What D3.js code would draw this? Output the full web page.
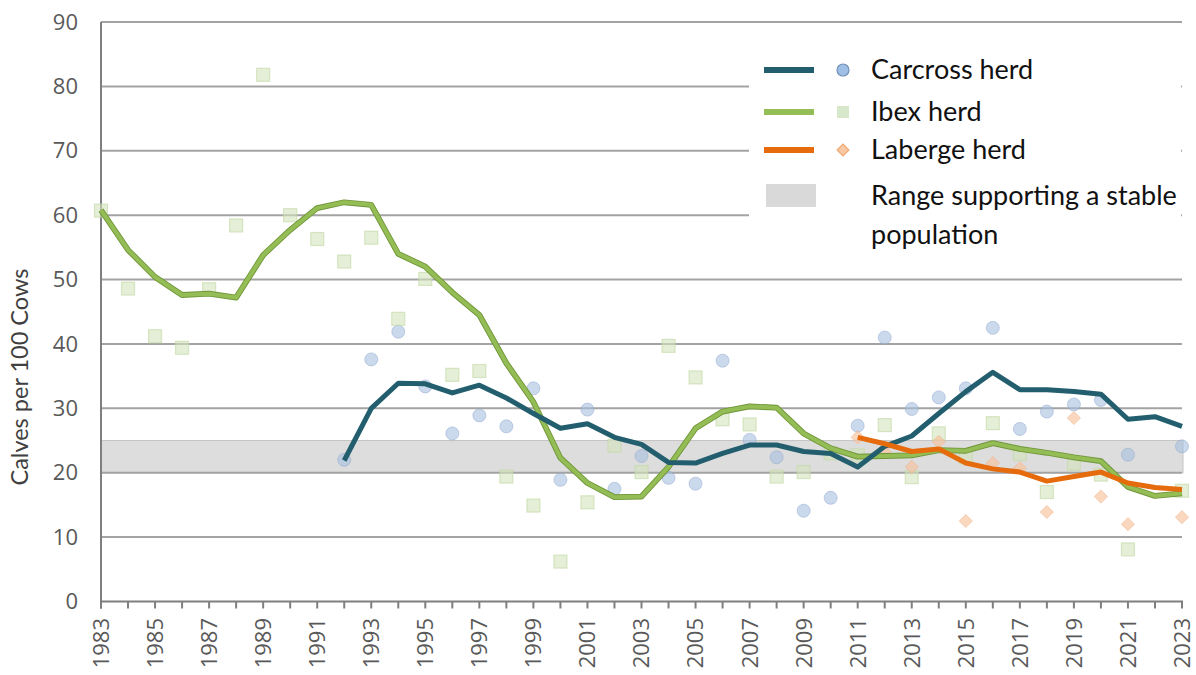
<!DOCTYPE html>
<html>
<head>
<meta charset="utf-8">
<script src="https://cdn.jsdelivr.net/npm/d3@7"></script>
<style>
  body { margin: 0; background: #fff; }
  svg { display: block; }
  .tick-lbl { font-family: "Open Sans", sans-serif; fill: #595959; }
  .legend-lbl { font-family: Lato, sans-serif; fill: #111; }
</style>
</head>
<body>
<div id="chart"></div>
<script>
// years on the x axis
const years = d3.range(1983, 2024);
const yearLabels = d3.range(1983, 2024, 2);
const yTicks = [0, 10, 20, 30, 40, 50, 60, 70, 80, 90];
const stableRange = [20, 25];

// running averages (lines)
const ibexLine = [60.8, 54.6, 50.4, 47.6, 47.8, 47.2, 53.8, 57.7, 61.1, 62.0,
  61.6, 54.0, 52.0, 48.0, 44.5, 37.0, 31.0, 22.3, 18.4, 16.2,
  16.3, 20.9, 26.9, 29.5, 30.3, 30.1, 26.1, 23.8, 22.5, 22.6,
  22.7, 23.5, 23.4, 24.6, 23.7, 23.1, 22.4, 21.8, 17.8, 16.4, 16.8];
const carcrossYears = d3.range(1992, 2024);
const carcrossLine = [21.9, 30.0, 33.9, 33.8, 32.4, 33.6, 31.6, 29.2, 26.9, 27.6,
  25.5, 24.4, 21.6, 21.5, 23.0, 24.3, 24.3, 23.3, 23.0, 20.9,
  24.1, 25.7, 29.2, 32.6, 35.6, 32.9, 32.9, 32.6, 32.2, 28.3, 28.7, 27.2];
const labergeYears = d3.range(2011, 2024);
const labergeLine = [25.5, 24.5, 23.3, 23.7, 21.5, 20.6, 20.1, 18.7, 19.4, 20.1, 18.4, 17.7, 17.4];

// yearly survey values (points)
const ibexPts = [60.7, 48.6, 41.2, 39.4, 48.5, 58.4, 81.8, 60.0, 56.3, 52.8,
  56.5, 43.9, 50.1, 35.2, 35.8, 19.4, 14.9, 6.2, 15.4, 24.2,
  20.1, 39.7, 34.8, 28.3, 27.5, 19.4, 20.1, 23.0, 22.7, 27.4,
  19.3, 26.1, 22.4, 27.7, 22.9, 17.0, 21.4, 19.7, 8.1, null, 17.2];
const carcrossPts = [22.0, 37.6, 41.9, 33.4, 26.1, 28.9, 27.2, 33.1, 18.9, 29.8,
  17.5, 22.6, 19.2, 18.3, 37.4, 25.1, 22.4, 14.1, 16.1, 27.3,
  41.0, 29.9, 31.7, 33.1, 42.5, 26.8, 29.5, 30.6, 31.3, 22.8, null, 24.1];
const labergePts = [25.5, 23.3, 20.9, 24.8, 12.5, 21.5, 20.7, 13.9, 28.5, 16.3, 12.0, null, 13.1];

const legendItems = ["Carcross herd", "Ibex herd", "Laberge herd"];

const width = 1196, height = 675;
const svg = d3.select("#chart").append("svg")
  .attr("width", width).attr("height", height);

const x = d3.scaleLinear().domain([1983, 2023]).range([101, 1182]);
const y = d3.scaleLinear().domain([0, 90]).range([601.5, 22]);

// stable band
svg.append("rect")
  .attr("x", x(1983)).attr("width", x(2023) - x(1983) + 1)
  .attr("y", y(stableRange[1])).attr("height", y(stableRange[0]) - y(stableRange[1]))
  .attr("fill", "#dddddd").attr("stroke", "#c4c4c4").attr("stroke-width", 1);

// gridlines
svg.append("g")
  .selectAll("line")
  .data(yTicks.filter(d => d > 0))
  .join("line")
  .attr("x1", x(1983)).attr("x2", x(2023))
  .attr("y1", d => y(d)).attr("y2", d => y(d))
  .attr("stroke", "#a3a3a3").attr("stroke-width", 2);

// y labels
svg.append("g")
  .selectAll("text")
  .data(yTicks)
  .join("text")
  .attr("class", "tick-lbl")
  .attr("x", 78).attr("y", d => y(d))
  .attr("text-anchor", "end").attr("dy", "0.35em")
  .style("font-size", "22px")
  .text(d => d);

// axes lines
svg.append("line")
  .attr("x1", x(1983)).attr("x2", x(1983))
  .attr("y1", y(90)).attr("y2", y(0) + 7)
  .attr("stroke", "#7f7f7f").attr("stroke-width", 2);
svg.append("line")
  .attr("x1", x(1983)).attr("x2", x(2023) + 1)
  .attr("y1", y(0)).attr("y2", y(0))
  .attr("stroke", "#7f7f7f").attr("stroke-width", 2);
svg.append("g")
  .selectAll("line")
  .data(years)
  .join("line")
  .attr("x1", d => x(d)).attr("x2", d => x(d))
  .attr("y1", y(0)).attr("y2", y(0) + 7)
  .attr("stroke", "#7f7f7f").attr("stroke-width", 2);

// x labels
svg.append("g")
  .selectAll("text")
  .data(yearLabels)
  .join("text")
  .attr("class", "tick-lbl")
  .attr("transform", d => `translate(${x(d)},618) rotate(-90)`)
  .attr("text-anchor", "end").attr("dy", "0.36em")
  .style("font-size", "22px")
  .text(d => d);

// y title
svg.append("text")
  .attr("class", "legend-lbl")
  .attr("transform", "translate(28,377) rotate(-90)")
  .attr("text-anchor", "middle")
  .style("font-size", "23.5px").style("fill", "#404040")
  .text("Calves per 100 Cows");

// points
svg.append("g").selectAll("circle")
  .data(carcrossYears.map((yr, i) => [yr, carcrossPts[i]]).filter(d => d[1] != null))
  .join("circle")
  .attr("cx", d => x(d[0])).attr("cy", d => y(d[1])).attr("r", 6.5)
  .attr("fill", "#a9bfdf").attr("fill-opacity", 0.6)
  .attr("stroke", "#8fa8cf").attr("stroke-opacity", 0.5).attr("stroke-width", 1);

svg.append("g").selectAll("rect")
  .data(years.map((yr, i) => [yr, ibexPts[i]]).filter(d => d[1] != null))
  .join("rect")
  .attr("x", d => x(d[0]) - 6.5).attr("y", d => y(d[1]) - 6.5)
  .attr("width", 13).attr("height", 13)
  .attr("fill", "#d3e3bd").attr("fill-opacity", 0.6)
  .attr("stroke", "#c2d8a3").attr("stroke-opacity", 0.6).attr("stroke-width", 1.2);

svg.append("g").selectAll("path")
  .data(labergeYears.map((yr, i) => [yr, labergePts[i]]).filter(d => d[1] != null))
  .join("path")
  .attr("d", d3.symbol(d3.symbolDiamond2, 110))
  .attr("transform", d => `translate(${x(d[0])},${y(d[1])})`)
  .attr("fill", "#f7c29d").attr("fill-opacity", 0.65)
  .attr("stroke", "#f3ad80").attr("stroke-opacity", 0.5).attr("stroke-width", 1);

// lines
const line = d3.line().x(d => x(d[0])).y(d => y(d[1]));
const ibexData = years.map((yr, i) => [yr, ibexLine[i]]);
svg.append("path").datum(ibexData).attr("d", line)
  .attr("fill", "none").attr("stroke", "#6f9639").attr("stroke-width", 5.8)
  .attr("stroke-linejoin", "round");
svg.append("path").datum(ibexData).attr("d", line)
  .attr("fill", "none").attr("stroke", "#94bd55").attr("stroke-width", 4)
  .attr("stroke-linejoin", "round");
svg.append("path").datum(carcrossYears.map((yr, i) => [yr, carcrossLine[i]])).attr("d", line)
  .attr("fill", "none").attr("stroke", "#235e6f").attr("stroke-width", 5)
  .attr("stroke-linejoin", "round");
svg.append("path").datum(labergeYears.map((yr, i) => [yr, labergeLine[i]])).attr("d", line)
  .attr("fill", "none").attr("stroke", "#e56b0c").attr("stroke-width", 5)
  .attr("stroke-linejoin", "round");

// legend
const lg = svg.append("g");
lg.append("rect").attr("x", 749).attr("y", 32).attr("width", 432).attr("height", 232)
  .attr("fill", "#fff");
const lineColors = ["#235e6f", "#94bd55", "#e56b0c"];
const ly = [70, 112, 150];
legendItems.forEach((name, i) => {
  lg.append("line").attr("x1", 764).attr("x2", 814).attr("y1", ly[i]).attr("y2", ly[i])
    .attr("stroke", lineColors[i]).attr("stroke-width", 6);
  lg.append("text").attr("class", "legend-lbl").attr("x", 871).attr("y", ly[i])
    .attr("dy", "0.35em").style("font-size", "27px").text(name);
});
lg.append("circle").attr("cx", 843).attr("cy", ly[0]).attr("r", 6)
  .attr("fill", "#9fbfe5").attr("stroke", "#7391b8").attr("stroke-width", 1.2);
lg.append("rect").attr("x", 837).attr("y", ly[1] - 6).attr("width", 12).attr("height", 12)
  .attr("fill", "#d7e7c9");
lg.append("path").attr("d", d3.symbol(d3.symbolDiamond2, 90))
  .attr("transform", `translate(843,${ly[2]})`)
  .attr("fill", "#f8c7a4").attr("stroke", "#f2a874").attr("stroke-width", 1.2);
lg.append("rect").attr("x", 766).attr("y", 184).attr("width", 50).attr("height", 23)
  .attr("fill", "#d9d9d9");
lg.append("text").attr("class", "legend-lbl").attr("x", 871).attr("y", 205)
  .style("font-size", "27px").text("Range supporting a stable");
lg.append("text").attr("class", "legend-lbl").attr("x", 871).attr("y", 244)
  .style("font-size", "27px").text("population");
</script>
</body>
</html>
